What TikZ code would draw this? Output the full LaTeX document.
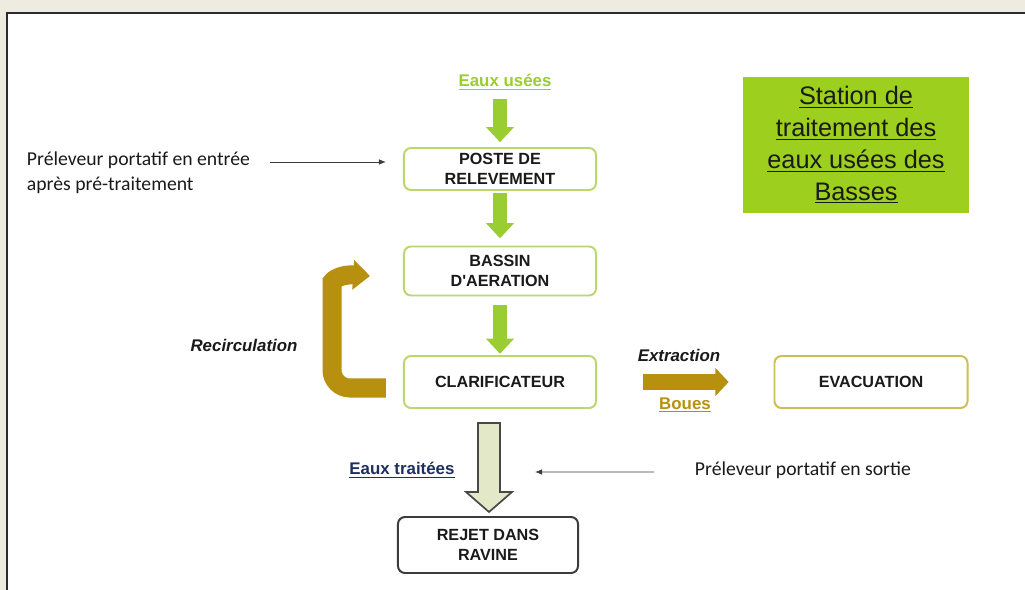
\documentclass[tikz,border=0pt]{standalone}
\usepackage{fontspec}
\setsansfont{Liberation Sans}
\newfontfamily\calfont{Carlito}
\usepackage{xcolor}
\usepackage{tikz}
\usetikzlibrary{arrows.meta}
\definecolor{pagebg}{HTML}{EEEBE0}
\definecolor{frame}{HTML}{2B2B2B}
\definecolor{ink}{HTML}{1A1A1A}
\definecolor{leaf}{HTML}{9ACD32}
\definecolor{leafline}{HTML}{BAD96C}
\definecolor{titlefill}{HTML}{9CCF1E}
\definecolor{ochre}{HTML}{B8900F}
\definecolor{ochreline}{HTML}{CDBE55}
\definecolor{navy}{HTML}{1F2F5F}
\definecolor{hollowfill}{HTML}{E2E8C8}
\tikzset{
  box/.style={draw=leafline, line width=1.4pt, rounded corners=5pt, fill=white, align=center,
    text=ink, font=\sffamily\bfseries\fontsize{11.5}{14}\selectfont, minimum width=4.8cm},
  flow/.style={draw=leaf, line width=0.35cm, -{Triangle[length=0.38cm,width=0.68cm]}},
  hollow/.style={draw=ink!80, fill=hollowfill, line width=1.2pt, line join=miter},
  probe/.style={draw=ink!85, line width=0.6pt, -{Latex[length=5pt,width=4pt]}},
  lab/.style={text=ink, font=\sffamily\bfseries\fontsize{12}{14}\selectfont},
  labi/.style={text=ink, font=\sffamily\bfseries\itshape\fontsize{12}{14}\selectfont},
  note/.style={text=ink, font=\calfont\fontsize{14}{17.8}\selectfont, align=left},
}
\begin{document}
\begin{tikzpicture}[x=0.025cm, y=-0.025cm]
  \useasboundingbox (0,0) rectangle (1025,590);
  % page and frame
  \fill[pagebg] (0,0) rectangle (1025,590);
  \draw[frame, fill=white, line width=1.5pt] (7,13) rectangle (1045,610);

  % title
  \node[fill=titlefill, minimum width=5.625cm, minimum height=3.375cm, align=center, text=ink,
    font=\sffamily\fontsize{18}{22.7}\selectfont] (titre) at (856,145)
    {\underline{Station de}\\\underline{traitement des}\\\underline{eaux usées des}\\\underline{Basses}};

  % main line
  \node[lab, text=leaf] (usees) at (505,82) {\underline{Eaux usées}};
  \node[box, minimum height=1.05cm] (poste) at (500,169) {POSTE DE\\RELEVEMENT};
  \node[box, minimum height=1.225cm] (bassin) at (500,271) {BASSIN\\D\textquotesingle AERATION};
  \node[box, minimum height=1.3cm] (clarif) at (500,382) {CLARIFICATEUR};
  \node[box, draw=ink!85, minimum width=4.5cm, minimum height=1.4cm] (rejet) at (488,545) {REJET DANS\\RAVINE};
  \node[box, draw=ochreline, minimum width=4.825cm, minimum height=1.3cm] (evac) at (871,382) {EVACUATION};

  \draw[flow, shorten <=0.12cm, shorten >=0.12cm] (poste.north |- usees.south) -- (poste.north);
  \draw[flow, shorten <=0.05cm, shorten >=0.18cm] (poste) -- (bassin);
  \draw[flow, shorten <=0.22cm, shorten >=0.03cm] (bassin) -- (clarif);

  % recirculation
  \coordinate (retour) at (370,276);
  \draw[draw=ochre, line width=0.475cm, rounded corners=0.45cm, -{Triangle[length=0.42cm,width=0.72cm]}]
    ([xshift=-0.43cm, yshift=-0.15cm]clarif.west) -- (332,388) -- (332,300)
    .. controls (332,281) and (340,274) .. (retour);
  \node[labi] (recirc) at (244,345) {Recirculation};

  % sludge
  \draw[flow, draw=ochre, line width=0.375cm, shorten <=1.15cm, shorten >=1.12cm,
    -{Triangle[length=0.33cm,width=0.68cm]}] (clarif) -- (evac);
  \node[labi] (extraction) at (679,355) {Extraction};
  \node[lab, text=ochre] (boues) at (685,405) {\underline{Boues}};

  % treated water
  \coordinate (drop) at (489,423);
  \draw[hollow] (drop) ++(-11,0) -- ++(22,0) -- ++(0,69) -- ++(12,0) -- ++(-23,20)
    -- ++(-23,-20) -- ++(12,0) -- cycle;
  \node[lab, text=navy] (traitees) at (402,470) {\underline{Eaux traitées}};

  % samplers
  \node[note, anchor=west] (entree) at (22,173) {Préleveur portatif en entrée\\après pré-traitement};
  \coordinate (probein) at (386,162);
  \draw[probe] (entree.east |- probein) ++(15,0) -- (probein);
  \node[note, anchor=west] (sortie) at (690,470) {Préleveur portatif en sortie};
  \coordinate (probeout) at (535,472);
  \draw[probe] ([xshift=-0.9cm, yshift=-0.05cm]sortie.west) -- (probeout);
\end{tikzpicture}
\end{document}
